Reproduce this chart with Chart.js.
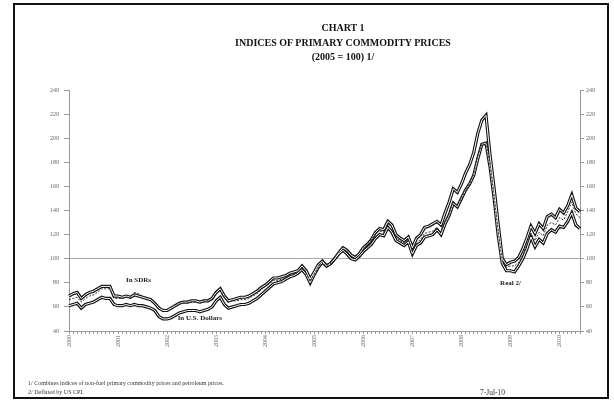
<!DOCTYPE html>
<html>
<head>
<meta charset="utf-8">
<script src="https://cdn.jsdelivr.net/npm/chart.js@4/dist/chart.umd.min.js"></script>
<style>
  body { margin: 0; background: #fff; }
  #wrap { position: relative; width: 614px; height: 401px; font-family: 'Liberation Serif', serif; }
  #frame { position: absolute; left: 13px; top: 3px; width: 592px; height: 392px; border: 2px solid #111; }
  canvas { position: absolute; left: 0; top: 0; }
  .t { position: absolute; left: 143px; width: 400px; text-align: center; font-weight: bold; color: #111; font-size: 10px; line-height: 12px; }
  .note { position: absolute; left: 28px; font-size: 6px; color: #333; line-height: 7px; }
  #date { position: absolute; left: 480px; top: 388px; font-size: 7.5px; color: #333; }
</style>
</head>
<body>
<div id="wrap">
  <div id="frame"></div>
  <canvas id="chart" width="614" height="401"></canvas>
  <div class="t" style="top:22px">CHART 1</div>
  <div class="t" style="top:37px">INDICES OF PRIMARY COMMODITY PRICES</div>
  <div class="t" style="top:51px">(2005 = 100) 1/</div>
  <div class="note" style="top:380px">1/ Combines indices of non-fuel primary commodity prices and petroleum prices.</div>
  <div class="note" style="top:389px">2/ Deflated by US CPI.</div>
  <div id="date">7-Jul-10</div>
</div>
<script>
const years = ['2000', '2001', '2002', '2003', '2004', '2005', '2006', '2007', '2008', '2009', '2010'];
const monthsInLast = 6;
const yTicks = [40, 60, 80, 100, 120, 140, 160, 180, 200, 220, 240];

// monthly index values, Jan 2000 - Jun 2010
const inDollars = [
    61, 62, 63, 59, 62, 63, 64, 66, 68, 67, 67, 62,
    61, 61, 62, 61, 62, 61, 61, 60, 59, 57, 52, 50,
    50, 51, 53, 55, 56, 57, 57, 57, 56, 57, 58, 60,
    65, 68, 62, 59, 60, 61, 62, 62, 63, 65, 67, 70,
    73, 76, 79, 80, 81, 83, 85, 86, 88, 91, 87, 80,
    87, 93, 97, 94, 96, 100, 105, 109, 107, 103, 101, 104,
    109, 112, 116, 122, 125, 124, 131, 128, 120, 117, 115, 118,
    109, 117, 120, 126, 127, 129, 131, 128, 138, 147, 158, 155,
    162, 171, 178, 188, 204, 215, 219, 186, 158, 128, 100, 95,
    97, 98, 101, 108, 117, 127, 121, 129, 125, 135, 137, 134,
    141, 138, 144, 153, 142, 139
];
const inSDRs = [
    66, 67, 68, 64, 67, 69, 70, 72, 75, 75, 75, 67,
    67, 67, 68, 68, 72, 71, 69, 68, 67, 64, 60, 58,
    58, 60, 62, 63, 64, 64, 64, 64, 63, 65, 65, 66,
    71, 74, 68, 64, 65, 65, 66, 66, 67, 69, 71, 74,
    77, 79, 82, 82, 83, 85, 86, 87, 89, 92, 88, 81,
    87, 93, 97, 94, 96, 101, 106, 110, 108, 104, 102, 105,
    110, 112, 116, 121, 123, 122, 129, 126, 118, 115, 113, 116,
    106, 113, 116, 121, 122, 123, 126, 122, 130, 137, 147, 144,
    150, 157, 162, 170, 185, 195, 197, 177, 151, 122, 98, 93,
    94, 94, 97, 103, 112, 121, 115, 122, 119, 128, 130, 128,
    134, 132, 139, 147, 137, 134
];
const real = [
    69, 71, 72, 67, 70, 72, 73, 75, 77, 77, 77, 69,
    69, 68, 69, 68, 70, 69, 68, 67, 66, 63, 59, 57,
    57, 59, 61, 63, 64, 64, 65, 65, 64, 65, 65, 67,
    72, 75, 69, 65, 66, 67, 68, 68, 69, 71, 73, 76,
    78, 81, 84, 84, 85, 86, 88, 89, 90, 94, 90, 83,
    89, 95, 98, 94, 96, 100, 104, 107, 104, 100, 99, 102,
    106, 109, 112, 117, 120, 119, 126, 122, 115, 113, 111, 114,
    104, 111, 113, 118, 119, 120, 124, 120, 129, 136, 146, 143,
    150, 157, 162, 169, 183, 195, 196, 176, 150, 119, 96, 90,
    90, 89, 94, 100, 108, 118, 110, 116, 113, 121, 124, 122,
    127, 126, 131, 138, 128, 125
];

// series labels placed on the chart (month index, index value)
const noteTexts = ['In SDRs', 'In U.S. Dollars', 'Real 2/'];
const noteMonths = [17, 32, 108];
const noteValues = [82, 50.5, 80];

const labels = [];
years.forEach((year, i) => {
    const count = i === years.length - 1 ? monthsInLast : 12;
    for (let m = 0; m < count; m++) labels.push(m === 0 ? year : '');
});

const tickFont = { family: 'Liberation Serif', size: 6 };
const axisGray = '#9a9a9a';

const notesPlugin = {
    id: 'notes',
    afterDatasetsDraw(chart) {
        const { ctx, scales } = chart;
        ctx.save();
        ctx.font = 'bold 7px "Liberation Serif"';
        ctx.fillStyle = '#222';
        ctx.textAlign = 'center';
        ctx.textBaseline = 'middle';
        noteTexts.forEach((text, i) => {
            ctx.fillText(text, scales.x.getPixelForValue(noteMonths[i]), scales.y.getPixelForValue(noteValues[i]));
        });
        ctx.restore();
    }
};

const hollow = (data, width) => ({ data, borderColor: '#111', borderWidth: width, pointRadius: 0, tension: 0 });
const inner = (data) => ({ data, borderColor: '#fff', borderWidth: 1, pointRadius: 0, tension: 0 });

new Chart(document.querySelector('#chart'), {
    type: 'line',
    data: {
        labels: labels,
        datasets: [
            { label: 'In SDRs', data: inSDRs, borderColor: '#333', borderWidth: 1, borderDash: [2, 1.5], pointRadius: 0, tension: 0 },
            inner(inDollars),
            inner(real),
            hollow(inDollars, 3.2),
            hollow(real, 3.2),
        ],
    },
    options: {
        responsive: false,
        animation: false,
        layout: { padding: { top: 90, left: 0, right: 0, bottom: 0 } },
        plugins: { legend: { display: false }, tooltip: { enabled: false } },
        scales: {
            x: {
                afterFit: (s) => { s.height = 70; },
                grid: { drawOnChartArea: false, tickLength: 3, tickColor: axisGray },
                border: { color: axisGray },
                ticks: {
                    autoSkip: false, maxRotation: 90, minRotation: 90, padding: 1,
                    font: tickFont, color: '#666',
                },
            },
            y: {
                position: 'left',
                min: 40, max: 240,
                afterFit: (s) => { s.width = 69; },
                afterBuildTicks: (s) => { s.ticks = yTicks.map((v) => ({ value: v })); },
                grid: {
                    color: (c) => (c.tick && c.tick.value === 100 ? '#a8a8a8' : 'rgba(0,0,0,0)'),
                    tickColor: axisGray, tickLength: 5,
                },
                border: { color: axisGray },
                ticks: { padding: 5, font: tickFont, color: '#666' },
            },
            y2: {
                position: 'right',
                min: 40, max: 240,
                afterFit: (s) => { s.width = 34; },
                afterBuildTicks: (s) => { s.ticks = yTicks.map((v) => ({ value: v })); },
                grid: { drawOnChartArea: false, tickColor: axisGray, tickLength: 4 },
                border: { color: axisGray },
                ticks: { padding: 2, font: tickFont, color: '#666' },
            },
        },
    },
    plugins: [notesPlugin],
});
</script>
</body>
</html>
